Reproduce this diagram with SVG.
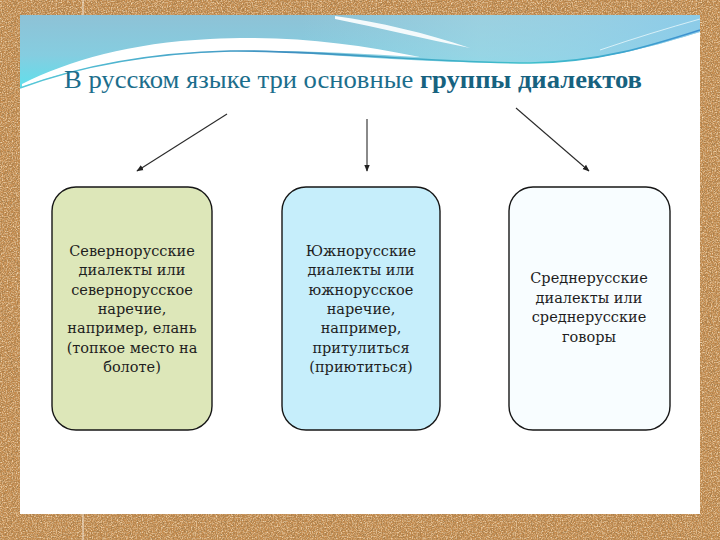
<svg xmlns="http://www.w3.org/2000/svg" width="720" height="540" viewBox="0 0 720 540">
  <defs>
    <filter id="corkDark" x="0" y="0" width="100%" height="100%">
      <feTurbulence type="fractalNoise" baseFrequency="0.7" numOctaves="2" seed="4" result="n"/>
      <feColorMatrix in="n" type="matrix" values="0 0 0 0 0.36  0 0 0 0 0.2  0 0 0 0 0.07  2.6 0 0 0 -1.0"/>
    </filter>
    <filter id="corkLight" x="0" y="0" width="100%" height="100%">
      <feTurbulence type="fractalNoise" baseFrequency="0.8" numOctaves="2" seed="11" result="n"/>
      <feColorMatrix in="n" type="matrix" values="0 0 0 0 0.92  0 0 0 0 0.72  0 0 0 0 0.48  2.2 0 0 0 -0.95"/>
    </filter>
    <linearGradient id="blueTop" x1="0" y1="0" x2="0" y2="1">
      <stop offset="0" stop-color="#8ec2d6"/>
      <stop offset="0.55" stop-color="#85cde0"/>
      <stop offset="1" stop-color="#5fe0ec"/>
    </linearGradient>
    <linearGradient id="blueRight" x1="0" y1="0" x2="1" y2="0">
      <stop offset="0" stop-color="#a6dbe8" stop-opacity="0"/>
      <stop offset="0.45" stop-color="#a9dde9" stop-opacity="0.5"/>
      <stop offset="1" stop-color="#8ccdec" stop-opacity="0.8"/>
    </linearGradient>
    <linearGradient id="lineGrad" x1="0" y1="0" x2="1" y2="0">
      <stop offset="0" stop-color="#58c9d8"/>
      <stop offset="0.4" stop-color="#3f8fc0"/>
      <stop offset="0.75" stop-color="#3fc0cc"/>
      <stop offset="1" stop-color="#3d8fd0"/>
    </linearGradient>
    <marker id="arr" viewBox="0 0 10 10" refX="9" refY="5" markerWidth="7" markerHeight="7" orient="auto" markerUnits="userSpaceOnUse">
      <path d="M0,1 L10,5 L0,9 z" fill="#222"/>
    </marker>
    <style>
      .box { stroke: #161616; stroke-width: 1.4; }
      .lbl { font-family: "DejaVu Serif", "Liberation Serif", "Noto Serif", serif; font-size: 14.5px; fill: #1e1e1e; text-anchor: middle; }
      .conn { stroke: #2a2a2a; stroke-width: 1.1; fill: none; marker-end: url(#arr); }
      .title { font-family: "Liberation Serif", "Times New Roman", Times, "DejaVu Serif", serif; font-size: 25px; fill: #1c6e8c; }
    </style>
  </defs>

  <!-- cork background -->
  <rect x="0" y="0" width="720" height="540" fill="#c68c4e"/>
  <rect x="0" y="0" width="720" height="540" filter="url(#corkDark)"/>
  <rect x="0" y="0" width="720" height="540" filter="url(#corkLight)"/>
  <line x1="83" y1="0" x2="83" y2="15" stroke="#f3e6d6" stroke-width="1"/>
  <line x1="83" y1="514" x2="83" y2="540" stroke="#f3e6d6" stroke-width="1"/>

  <!-- slide -->
  <rect x="20" y="15" width="680" height="499" fill="#ffffff"/>

  <!-- header swoosh -->
  <g id="header">
    <path d="M20,15 L700,15 L700,32 C660,44 610,60 540,63 C450,64 360,57 280,52 C180,48 90,62 20,88 Z" fill="url(#blueTop)"/>
    <path d="M300,15 L700,15 L700,32 C660,44 610,60 540,63 C450,64 380,58 300,50 Z" fill="url(#blueRight)"/>
    <path d="M22,84 C70,60 130,43 210,39 C290,35 350,43 420,57 C360,54 300,50 230,51 C150,53 80,66 22,87 Z" fill="#ffffff"/>
    <path d="M335,16 C380,22 425,33 470,48 C425,39 380,28 335,19 Z" fill="#ffffff" opacity="0.9"/>
    <path d="M600,50 C635,38 668,28 700,19" stroke="#e8f7fb" stroke-width="1" fill="none" opacity="0.8"/>
    <path d="M20,88 C80,66 150,53 230,51 C320,50 430,63 530,63 C600,62 650,46 700,30" stroke="url(#lineGrad)" stroke-width="1.6" fill="none"/>
  </g>

  <!-- title -->
  <text class="title" x="64" y="88" textLength="578" lengthAdjust="spacingAndGlyphs">В русском языке три основные <tspan font-weight="bold" fill="#17627f">группы диалектов</tspan></text>

  <!-- connectors -->
  <g id="connectors">
    <line class="conn" x1="227" y1="114" x2="137" y2="171"/>
    <line class="conn" x1="367" y1="119" x2="367" y2="171"/>
    <line class="conn" x1="516" y1="108" x2="589" y2="171"/>
  </g>

  <!-- nodes -->
  <g id="north">
    <rect class="box" x="52" y="187" width="160" height="243" rx="24" fill="#dde7b9"/>
    <text class="lbl" x="132" y="256">Севернорусские</text>
    <text class="lbl" x="132" y="275.3">диалекты или</text>
    <text class="lbl" x="132" y="294.6">севернорусское</text>
    <text class="lbl" x="132" y="313.9">наречие,</text>
    <text class="lbl" x="132" y="333.2">например, елань</text>
    <text class="lbl" x="132" y="352.5">(топкое место на</text>
    <text class="lbl" x="132" y="371.8">болоте)</text>
  </g>
  <g id="south">
    <rect class="box" x="282" y="187" width="158" height="243" rx="24" fill="#c6eefb"/>
    <text class="lbl" x="361" y="256">Южнорусские</text>
    <text class="lbl" x="361" y="275.3">диалекты или</text>
    <text class="lbl" x="361" y="294.6">южнорусское</text>
    <text class="lbl" x="361" y="313.9">наречие,</text>
    <text class="lbl" x="361" y="333.2">например,</text>
    <text class="lbl" x="361" y="352.5">притулиться</text>
    <text class="lbl" x="361" y="371.8">(приютиться)</text>
  </g>
  <g id="central">
    <rect class="box" x="509" y="187" width="161" height="243" rx="24" fill="#f8fdff"/>
    <text class="lbl" x="589" y="283">Среднерусские</text>
    <text class="lbl" x="589" y="302.5">диалекты или</text>
    <text class="lbl" x="589" y="322">среднерусские</text>
    <text class="lbl" x="589" y="341.5">говоры</text>
  </g>
</svg>
